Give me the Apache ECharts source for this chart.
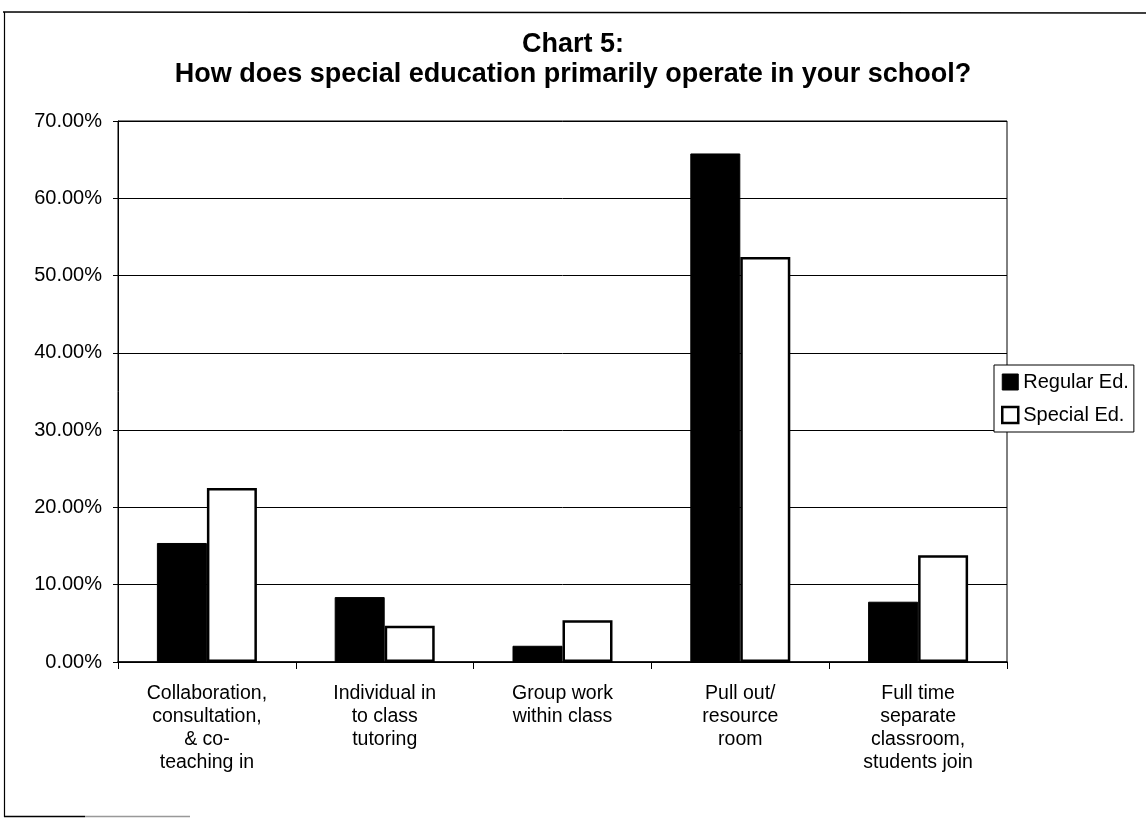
<!DOCTYPE html>
<html>
<head>
<meta charset="utf-8">
<title>Chart 5</title>
<script src="https://cdn.jsdelivr.net/npm/echarts@6/dist/echarts.min.js"></script>
<style>
  html, body { margin: 0; padding: 0; background: #fff; }
  #chart { width: 1146px; height: 818px; }
</style>
</head>
<body>
<div id="chart"></div>
<script>
// Survey responses: how special education primarily operates (percent of respondents)
const categories = [
  'Collaboration,\nconsultation,\n& co-\nteaching in',
  'Individual in\nto class\ntutoring',
  'Group work\nwithin class',
  'Pull out/\nresource\nroom',
  'Full time\nseparate\nclassroom,\nstudents join'
];
const regularEd = [15.4, 8.4, 2.1, 65.8, 7.8];
const specialEd = [22.5, 4.7, 5.4, 52.4, 13.8];
const seriesNames = ['Regular Ed.', 'Special Ed.'];
const yTicks = { min: 0, max: 70, interval: 10 };
const titleLines = ['Chart 5:', 'How does special education primarily operate in your school?'];

const FONT = '"Liberation Sans", Arial, sans-serif';
const titleStyle = { fontFamily: FONT, fontSize: 27, fontWeight: 'bold', color: '#000' };

const chart = echarts.init(document.getElementById('chart'), null, { renderer: 'canvas' });

chart.setOption({
  backgroundColor: '#ffffff',
  animation: false,
  title: [
    { text: titleLines[0], left: 'center', top: 31, padding: 0, textStyle: titleStyle },
    { text: titleLines[1], left: 'center', top: 61, padding: 0, textStyle: titleStyle }
  ],
  legend: {
    orient: 'vertical',
    left: 994,
    top: 365,
    itemWidth: 16,
    itemHeight: 16,
    itemGap: 13,
    padding: [7, 5, 7, 7],
    borderColor: '#000',
    borderWidth: 1,
    backgroundColor: '#fff',
    textStyle: { fontFamily: FONT, fontSize: 20, color: '#000' },
    data: [
      { name: seriesNames[0], icon: 'rect', itemStyle: { color: '#000', borderColor: '#000', borderWidth: 1 } },
      { name: seriesNames[1], icon: 'rect', itemStyle: { color: '#fff', borderColor: '#000', borderWidth: 2.5 } }
    ]
  },
  grid: {
    left: 118,
    right: 139,
    top: 121,
    bottom: 156,
    show: true,
    borderColor: '#000',
    borderWidth: 1,
    containLabel: false
  },
  xAxis: {
    type: 'category',
    data: categories,
    axisLine: { lineStyle: { color: '#000', width: 1.5 } },
    axisTick: { show: true, alignWithLabel: false, length: 7, lineStyle: { color: '#000' } },
    axisLabel: {
      fontFamily: FONT,
      fontSize: 19.5,
      color: '#000',
      lineHeight: 23,
      margin: 20,
      interval: 0
    },
    splitLine: { show: false }
  },
  yAxis: {
    type: 'value',
    min: yTicks.min,
    max: yTicks.max,
    interval: yTicks.interval,
    axisLine: { show: true, lineStyle: { color: '#000', width: 1 } },
    axisTick: { show: true, length: 5, lineStyle: { color: '#000' } },
    axisLabel: {
      fontFamily: FONT,
      fontSize: 20,
      color: '#000',
      margin: 16,
      formatter: v => v.toFixed(2) + '%'
    },
    splitLine: { show: true, lineStyle: { color: '#000', width: 1 } }
  },
  series: [
    {
      name: seriesNames[0],
      type: 'bar',
      data: regularEd,
      barWidth: 50,
      barGap: '0%',
      itemStyle: { color: '#000', borderColor: '#000', borderWidth: 1 }
    },
    {
      name: seriesNames[1],
      type: 'bar',
      data: specialEd,
      barWidth: 50,
      barGap: '0%',
      itemStyle: { color: '#fff', borderColor: '#000', borderWidth: 2.5 }
    }
  ],
  graphic: [
    // outer chart frame (top, left, and a short bottom stub)
    { type: 'line', shape: { x1: 3, y1: 12, x2: 1146, y2: 13 }, style: { stroke: '#000', lineWidth: 1.5 } },
    { type: 'line', shape: { x1: 4.5, y1: 12, x2: 4.5, y2: 817 }, style: { stroke: '#000', lineWidth: 1.2 } },
    { type: 'line', shape: { x1: 4, y1: 816.5, x2: 85, y2: 816.5 }, style: { stroke: '#000', lineWidth: 1.5 } },
    { type: 'line', shape: { x1: 85, y1: 816.5, x2: 190, y2: 816.5 }, style: { stroke: '#999', lineWidth: 1.5 } }
  ]
});
</script>
</body>
</html>
